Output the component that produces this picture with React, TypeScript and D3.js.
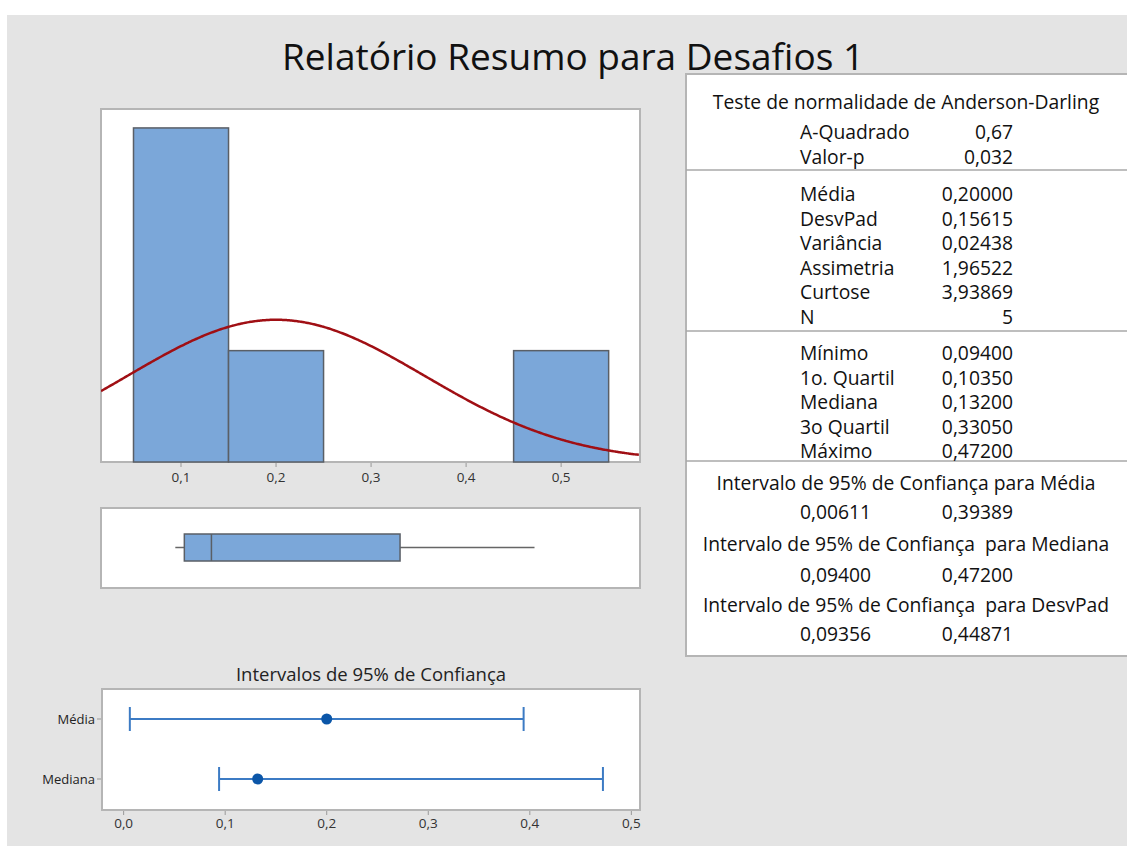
import React from "react";
import * as d3 from "d3";

// ---------- data ----------
const title = "Relatório Resumo para Desafios 1";
const binEdges = [0.05, 0.15, 0.25, 0.35, 0.45, 0.55];
const binCounts = [3, 1, 0, 0, 1];
const histTicks = [0.1, 0.2, 0.3, 0.4, 0.5];
const fitMean = 0.2;
const fitSd = 0.15615;
const sampleN = 5;
const boxStats = { min: 0.094, q1: 0.1035, median: 0.132, q3: 0.3305, max: 0.472 };

const ciTitle = "Intervalos de 95% de Confiança";
const ciLabels = ["Média", "Mediana"];
const ciCenter = [0.2, 0.132];
const ciLow = [0.00611, 0.094];
const ciHigh = [0.39389, 0.472];
const ciTicks = [0, 0.1, 0.2, 0.3, 0.4, 0.5];

const adTitle = "Teste de normalidade de Anderson-Darling";
const adLabels = ["A-Quadrado", "Valor-p"];
const adValues = ["0,67", "0,032"];
const momentLabels = ["Média", "DesvPad", "Variância", "Assimetria", "Curtose", "N"];
const momentValues = ["0,20000", "0,15615", "0,02438", "1,96522", "3,93869", "5"];
const quantLabels = ["Mínimo", "1o. Quartil", "Mediana", "3o Quartil", "Máximo"];
const quantValues = ["0,09400", "0,10350", "0,13200", "0,33050", "0,47200"];
const ciTableTitles = [
  "Intervalo de 95% de Confiança para Média",
  "Intervalo de 95% de Confiança  para Mediana",
  "Intervalo de 95% de Confiança  para DesvPad",
];
const ciTableLow = ["0,00611", "0,09400", "0,09356"];
const ciTableHigh = ["0,39389", "0,47200", "0,44871"];

// ---------- styling ----------
const FONT = "'Open Sans', 'Noto Sans', sans-serif";
const BG = "#e4e4e4";
const PANEL_STROKE = "#b5b5b5";
const BAR_FILL = "#7ba7d9";
const BAR_STROKE = "#5a5f66";
const CURVE = "#a00f14";
const CI_LINE = "#3c7bc4";
const CI_DOT = "#0b56a8";

const fmt = (v: number) => d3.format(".1f")(v).replace(".", ",");

export default function App() {
  // histogram
  const hist = { x0: 101, x1: 640, y0: 109, y1: 462 };
  const xH = d3.scaleLinear().domain([0.0158, 0.583]).range([hist.x0, hist.x1]);
  const yH = d3.scaleLinear().domain([0, 3.17]).range([hist.y1, hist.y0]);

  const curvePts = d3.range(xH.domain()[0], xH.domain()[1] + 0.0001, 0.002).map((v) => {
    const dens = Math.exp(-0.5 * ((v - fitMean) / fitSd) ** 2) / (fitSd * Math.sqrt(2 * Math.PI));
    return [v, dens * sampleN * (binEdges[1] - binEdges[0])] as [number, number];
  });
  const curvePath = d3
    .line<[number, number]>()
    .x((d) => xH(d[0]))
    .y((d) => yH(d[1]))
    .curve(d3.curveBasis)(curvePts) as string;

  // boxplot
  const box = { x0: 101, x1: 640, y0: 508, y1: 588 };
  const boxTop = 534;
  const boxBot = 561;
  const boxMid = (boxTop + boxBot) / 2;

  // CI panel
  const ci = { x0: 102, x1: 640, y0: 689, y1: 810 };
  const xC = d3.scaleLinear().domain([-0.0213, 0.5085]).range([ci.x0, ci.x1]);
  const yC = d3.scalePoint<string>().domain(ciLabels).range([719, 779]);

  // table
  const tb = { x0: 686, x1: 1140, y0: 74, y1: 656 };
  const labelX = 800;
  const valueX = 1013;
  const tfs = 19.3;

  return (
    <svg
      width={1127}
      height={846}
      style={{ position: "absolute", left: 0, top: 0, display: "block" }}
      fontFamily={FONT}
    >
      <rect x={0} y={0} width={1127} height={846} fill="#ffffff" />
      <rect x={7} y={15} width={1120} height={831} fill={BG} />

      {/* title */}
      <text x={573} y={70} textAnchor="middle" fontSize={37} fill="#111">
        {title}
      </text>

      {/* histogram panel */}
      <rect
        x={hist.x0}
        y={hist.y0}
        width={hist.x1 - hist.x0}
        height={hist.y1 - hist.y0}
        fill="#fff"
        stroke={PANEL_STROKE}
        strokeWidth={2}
      />
      <defs>
        <clipPath id="histclip">
          <rect x={hist.x0} y={hist.y0} width={hist.x1 - hist.x0} height={hist.y1 - hist.y0} />
        </clipPath>
      </defs>
      <g>
        {binCounts.map((c, i) => (
          <rect
            key={i}
            x={xH(binEdges[i])}
            y={yH(c)}
            width={xH(binEdges[i + 1]) - xH(binEdges[i])}
            height={yH(0) - yH(c)}
            fill={BAR_FILL}
            stroke={BAR_STROKE}
            strokeWidth={1.5}
          />
        ))}
      </g>
      <path d={curvePath} fill="none" stroke={CURVE} strokeWidth={2.5} clipPath="url(#histclip)" />
      {histTicks.map((t) => (
        <g key={t}>
          <line x1={xH(t)} x2={xH(t)} y1={hist.y1 + 1} y2={hist.y1 + 5} stroke="#999" strokeWidth={1} />
          <text x={xH(t)} y={482} textAnchor="middle" fontSize={13.5} fill="#333">
            {fmt(t)}
          </text>
        </g>
      ))}

      {/* boxplot panel */}
      <rect
        x={box.x0}
        y={box.y0}
        width={box.x1 - box.x0}
        height={box.y1 - box.y0}
        fill="#fff"
        stroke={PANEL_STROKE}
        strokeWidth={2}
      />
      <line x1={xH(boxStats.min)} x2={xH(boxStats.q1)} y1={boxMid} y2={boxMid} stroke="#666" strokeWidth={1.5} />
      <line x1={xH(boxStats.q3)} x2={xH(boxStats.max)} y1={boxMid} y2={boxMid} stroke="#666" strokeWidth={1.5} />
      <rect
        x={xH(boxStats.q1)}
        y={boxTop}
        width={xH(boxStats.q3) - xH(boxStats.q1)}
        height={boxBot - boxTop}
        fill={BAR_FILL}
        stroke={BAR_STROKE}
        strokeWidth={1.5}
      />
      <line
        x1={xH(boxStats.median)}
        x2={xH(boxStats.median)}
        y1={boxTop}
        y2={boxBot}
        stroke={BAR_STROKE}
        strokeWidth={1.5}
      />

      {/* CI panel */}
      <text x={371} y={681} textAnchor="middle" fontSize={18.5} fill="#222">
        {ciTitle}
      </text>
      <rect
        x={ci.x0}
        y={ci.y0}
        width={ci.x1 - ci.x0}
        height={ci.y1 - ci.y0}
        fill="#fff"
        stroke={PANEL_STROKE}
        strokeWidth={2}
      />
      {ciLabels.map((lab, i) => {
        const y = yC(lab) as number;
        return (
          <g key={lab}>
            <line x1={ci.x0 - 5} x2={ci.x0 - 1} y1={y} y2={y} stroke="#999" />
            <text x={ci.x0 - 7} y={y + 4.5} textAnchor="end" fontSize={13} fill="#222">
              {lab}
            </text>
            <line x1={xC(ciLow[i])} x2={xC(ciHigh[i])} y1={y} y2={y} stroke={CI_LINE} strokeWidth={2} />
            <line x1={xC(ciLow[i])} x2={xC(ciLow[i])} y1={y - 12} y2={y + 12} stroke={CI_LINE} strokeWidth={2} />
            <line x1={xC(ciHigh[i])} x2={xC(ciHigh[i])} y1={y - 12} y2={y + 12} stroke={CI_LINE} strokeWidth={2} />
            <circle cx={xC(ciCenter[i])} cy={y} r={5.5} fill={CI_DOT} />
          </g>
        );
      })}
      {ciTicks.map((t) => (
        <g key={t}>
          <line x1={xC(t)} x2={xC(t)} y1={ci.y1 + 1} y2={ci.y1 + 5} stroke="#999" />
          <text x={xC(t)} y={828} textAnchor="middle" fontSize={13.5} fill="#333">
            {fmt(t)}
          </text>
        </g>
      ))}

      {/* table */}
      <rect
        x={tb.x0}
        y={tb.y0}
        width={tb.x1 - tb.x0}
        height={tb.y1 - tb.y0}
        fill="#fff"
        stroke={PANEL_STROKE}
        strokeWidth={2}
      />
      {[170, 331, 461].map((y) => (
        <line key={y} x1={tb.x0} x2={1127} y1={y} y2={y} stroke="#a8a8a8" strokeWidth={1.5} />
      ))}
      <g fontSize={tfs} fill="#111">
        <text x={906} y={109} textAnchor="middle">
          {adTitle}
        </text>
        {adLabels.map((l, i) => (
          <g key={l}>
            <text x={labelX} y={139 + i * 25}>{l}</text>
            <text x={valueX} y={139 + i * 25} textAnchor="end">{adValues[i]}</text>
          </g>
        ))}
        {momentLabels.map((l, i) => (
          <g key={l}>
            <text x={labelX} y={201 + i * 24.6}>{l}</text>
            <text x={valueX} y={201 + i * 24.6} textAnchor="end">{momentValues[i]}</text>
          </g>
        ))}
        {quantLabels.map((l, i) => (
          <g key={l}>
            <text x={labelX} y={360 + i * 24.5}>{l}</text>
            <text x={valueX} y={360 + i * 24.5} textAnchor="end">{quantValues[i]}</text>
          </g>
        ))}
        {ciTableTitles.map((t, i) => {
          const ty = [490, 551, 612][i];
          const vy = [519, 582, 641][i];
          return (
            <g key={t}>
              <text x={906} y={ty} textAnchor="middle" style={{ whiteSpace: "pre" }}>
                {t}
              </text>
              <text x={labelX} y={vy}>{ciTableLow[i]}</text>
              <text x={valueX} y={vy} textAnchor="end">{ciTableHigh[i]}</text>
            </g>
          );
        })}
      </g>
    </svg>
  );
}
